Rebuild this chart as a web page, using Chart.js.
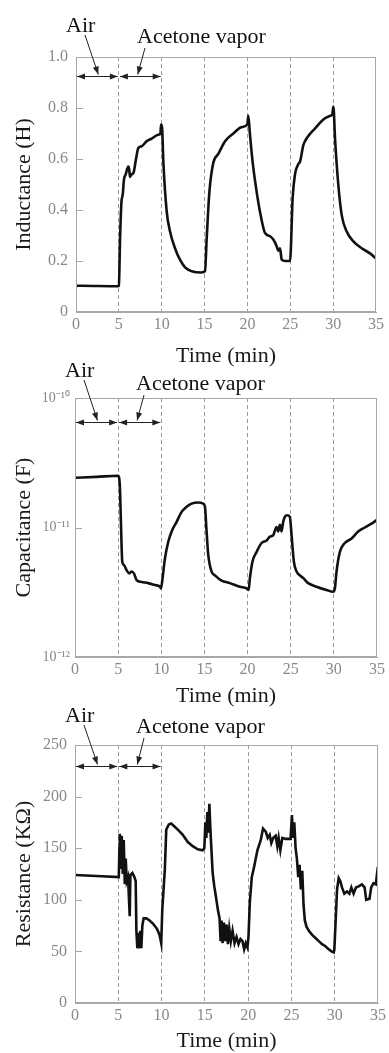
<!DOCTYPE html>
<html>
<head>
<meta charset="utf-8">
<script src="https://cdn.jsdelivr.net/npm/chart.js@4.4.1/dist/chart.umd.min.js"></script>
<style>
  body { margin: 0; background: #fff; width: 389px; height: 1053px; overflow: hidden; position: relative; }
  canvas { position: absolute; left: 0; }
</style>
</head>
<body>
<canvas id="inductance" width="389" height="372" style="top:0px"></canvas>
<canvas id="capacitance" width="389" height="380" style="top:340px"></canvas>
<canvas id="resistance" width="389" height="356" style="top:700px"></canvas>
<script>
// time axis (min) shared by the three panels
const timeTicks = [0, 5, 10, 15, 20, 25, 30, 35];
const exposureSpans = [[0, 5], [5, 10]];   // air, then acetone vapor

// inductance (H)
const indTime = [0, 2, 4.9, 5.0, 5.15, 5.3, 5.45, 5.6, 5.8, 6.1, 6.2, 6.3, 6.5, 6.7, 7.0, 7.27, 7.66, 8.25, 8.83, 9.6, 9.85, 9.92,
  10.05, 10.19, 10.58, 10.97, 11.55, 12.13, 12.72, 13.5, 14.66, 15.05, 15.25, 15.56, 16.02, 16.6, 17.39, 18.36, 19.33, 19.99,
  20.1, 20.3, 20.6, 21.08, 21.66, 22.05, 22.64, 23.02, 23.41, 23.6, 23.8, 24.0, 24.4, 24.97, 25.28, 25.55, 25.94, 26.14, 26.53,
  27.1, 27.9, 28.86, 29.72, 29.9, 30.03, 30.22, 30.6, 31.0, 31.58, 32.36, 33.33, 34.3, 35];
const indValue = [0.103, 0.102, 0.101, 0.103, 0.30, 0.43, 0.46, 0.52, 0.54, 0.57, 0.56, 0.53, 0.54, 0.545, 0.60, 0.643, 0.65, 0.67, 0.68, 0.695, 0.70, 0.735,
  0.72, 0.59, 0.395, 0.316, 0.25, 0.205, 0.175, 0.16, 0.155, 0.16, 0.29, 0.47, 0.585, 0.62, 0.67, 0.70, 0.725, 0.735,
  0.77, 0.695, 0.59, 0.47, 0.36, 0.31, 0.297, 0.284, 0.258, 0.24, 0.25, 0.205, 0.20, 0.20, 0.45, 0.54, 0.58, 0.59, 0.655,
  0.69, 0.72, 0.755, 0.77, 0.775, 0.806, 0.68, 0.50, 0.38, 0.316, 0.277, 0.25, 0.23, 0.21];
const indTicks = [0, 0.2, 0.4, 0.6, 0.8, 1.0];

// capacitance (F)
const capTime = [0, 2.5, 5.02, 5.21, 5.33, 5.48, 5.68, 5.98, 6.29, 6.56, 6.83, 7.14, 7.72, 8.49, 9.27, 9.85, 9.96,
  10.15, 10.42, 10.81, 11.2, 11.78, 12.36, 12.93, 13.51, 14.29, 14.86, 15.06, 15.25, 15.44, 15.83, 16.22, 16.99, 17.95, 19.11, 19.88,
  20.12, 20.27, 20.58, 21.04, 21.62, 22.2, 22.59, 22.97, 23.36, 23.55, 23.75, 23.94, 24.13, 24.32, 24.59, 24.9,
  25.1, 25.37, 25.68, 26.06, 26.45, 27.03, 27.99, 29.15, 29.92, 30.12, 30.31, 30.69, 31.27, 32.05, 32.82, 33.59, 34.36, 34.94];
const capValue = [2.42e-11, 2.46e-11, 2.51e-11, 2.0e-11, 1.05e-11, 5.43e-12, 5.13e-12, 4.68e-12, 4.42e-12, 4.57e-12, 4.42e-12, 3.93e-12, 3.80e-12, 3.72e-12, 3.59e-12, 3.49e-12, 3.39e-12,
  4.07e-12, 5.75e-12, 7.76e-12, 9.33e-12, 1.107e-11, 1.32e-11, 1.445e-11, 1.53e-11, 1.56e-11, 1.53e-11, 1.445e-11, 9.33e-12, 6.17e-12, 4.57e-12, 4.27e-12, 3.89e-12, 3.72e-12, 3.49e-12, 3.39e-12,
  3.29e-12, 4.07e-12, 5.5e-12, 6.46e-12, 7.59e-12, 7.94e-12, 8.51e-12, 8.71e-12, 1.01e-11, 9.33e-12, 1.05e-11, 9.33e-12, 1.107e-11, 1.21e-11, 1.245e-11, 1.21e-11,
  8.71e-12, 5.43e-12, 4.57e-12, 4.27e-12, 4.07e-12, 3.72e-12, 3.49e-12, 3.29e-12, 3.19e-12, 3.39e-12, 4.57e-12, 6.46e-12, 7.59e-12, 8.22e-12, 9.33e-12, 1.0e-11, 1.07e-11, 1.14e-11];
const capTicks = [1e-12, 1e-11, 1e-10];
const capTickLabels = ['10⁻¹²', '10⁻¹¹', '10⁻¹⁰'];

// resistance (kOhm)
const resTime = [0, 2.5, 5.06, 5.13, 5.17, 5.29, 5.4, 5.52, 5.63, 5.75, 5.86, 5.98, 6.13, 6.25, 6.32, 6.4, 6.63, 6.86, 7.01, 7.09, 7.2, 7.32, 7.43, 7.55, 7.66, 7.78, 7.93,
  8.24, 8.62, 9.0, 9.46, 9.77, 9.96, 10.08, 10.23, 10.38, 10.54, 10.84, 11.11, 11.49, 11.88, 12.45, 13.03, 13.6, 14.18, 14.75, 14.94,
  15.06, 15.17, 15.29, 15.4, 15.52, 15.63, 15.75, 15.9, 16.09, 16.28, 16.51, 16.7, 16.82, 16.93, 17.05, 17.2, 17.36, 17.51, 17.66, 17.82,
  18.0, 18.2, 18.43, 18.66, 18.89, 19.12, 19.35, 19.54, 19.73, 19.92, 20.04, 20.19, 20.42, 20.69, 21.07, 21.46, 21.72, 22.03, 22.26, 22.49,
  22.68, 22.91, 23.18, 23.37, 23.52, 23.72, 23.95, 24.33, 24.9, 25.06, 25.17, 25.33, 25.48, 25.63, 25.79, 25.94, 26.09, 26.25, 26.4, 26.55,
  26.74, 27.01, 27.39, 27.78, 28.16, 28.54, 28.93, 29.31, 29.62, 29.89, 29.96, 30.11, 30.27, 30.46, 30.65, 30.84, 31.11, 31.42, 31.69, 31.92,
  32.18, 32.45, 32.76, 33.14, 33.45, 33.64, 34.02, 34.21, 34.48, 34.75, 34.98];
const resValue = [124, 123, 122, 150, 164, 130, 162, 125, 158, 115, 140, 118, 122, 98, 84, 124, 126, 122, 118, 70, 53, 68, 53, 70, 53, 75, 82,
  82, 80, 77, 72, 66, 58, 90, 110, 130, 168, 173, 174, 171, 168, 163, 156, 152, 149, 148, 150,
  175, 160, 185, 165, 193, 170, 150, 126, 113, 103, 90, 82, 60, 80, 58, 78, 60, 76, 57, 72,
  60, 70, 58, 64, 57, 62, 60, 52, 58, 54, 64, 97, 122, 132, 148, 158, 169, 166, 160, 163,
  155, 160, 162, 152, 160, 148, 160, 159, 159, 182, 160, 175, 150, 140, 122, 134, 110, 128, 95, 80,
  74, 70, 66, 63, 60, 57, 55, 52, 50, 49, 52, 80, 110, 121, 118, 112, 106, 108, 106, 112,
  106, 112, 113, 115, 112, 100, 101, 112, 116, 115, 132];
const resTicks = [0, 50, 100, 150, 200, 250];

const serif = "'Liberation Serif', 'Times New Roman', serif";

function zip(xs, ys) {
  return xs.map((t, i) => ({ x: t, y: ys[i] }));
}

function head(ctx, x, y, ang) {
  ctx.beginPath();
  ctx.moveTo(x, y);
  ctx.lineTo(x - 8 * Math.cos(ang) + 3 * Math.sin(ang), y - 8 * Math.sin(ang) - 3 * Math.cos(ang));
  ctx.lineTo(x - 8 * Math.cos(ang) - 3 * Math.sin(ang), y - 8 * Math.sin(ang) + 3 * Math.cos(ang));
  ctx.closePath();
  ctx.fill();
}

function pointer(ctx, x0, y0, x1, y1) {
  ctx.beginPath();
  ctx.moveTo(x0, y0);
  ctx.lineTo(x1, y1);
  ctx.stroke();
  head(ctx, x1, y1, Math.atan2(y1 - y0, x1 - x0));
}

// box, inner y ticks and the air / acetone vapor markers
const notes = {
  id: 'notes',
  afterDraw(chart, args, o) {
    const { ctx, chartArea: a, scales: { x, y } } = chart;
    ctx.save();
    ctx.strokeStyle = '#a8a8a8';
    ctx.lineWidth = 1;
    ctx.strokeRect(a.left + 0.5, a.top + 0.5, a.right - a.left - 1, a.bottom - a.top - 1);
    y.ticks.forEach(t => {
      const py = Math.round(y.getPixelForValue(t.value)) + 0.5;
      if (py <= a.top + 2 || py >= a.bottom - 2) return;
      ctx.beginPath();
      ctx.moveTo(a.left, py);
      ctx.lineTo(a.left + 7, py);
      ctx.stroke();
    });

    const ay = Math.round(y.getPixelForValue(o.arrowY)) + 0.5;
    ctx.strokeStyle = '#222';
    ctx.fillStyle = '#222';
    exposureSpans.forEach(([t0, t1]) => {
      const x0 = x.getPixelForValue(t0) + 1, x1 = x.getPixelForValue(t1) - 1;
      ctx.beginPath();
      ctx.moveTo(x0, ay);
      ctx.lineTo(x1, ay);
      ctx.stroke();
      head(ctx, x0, ay, Math.PI);
      head(ctx, x1, ay, 0);
    });

    ctx.font = '22px ' + serif;
    ctx.fillStyle = '#111';
    ctx.textBaseline = 'alphabetic';
    ctx.fillText('Air', a.left - 10, a.top + o.airBase);
    ctx.fillText('Acetone vapor', a.left + 61, a.top + o.aceBase);

    ctx.fillStyle = '#222';
    pointer(ctx, a.left + 9, a.top + o.airBase + 3, x.getPixelForValue(2.6), ay - 2);
    pointer(ctx, a.left + 69, a.top + o.aceBase + 5, x.getPixelForValue(7.2), ay - 2);
    ctx.restore();
  }
};

function makePanel(id, p) {
  return new Chart(document.getElementById(id), {
    type: 'line',
    data: {
      datasets: [{
        data: p.data,
        borderColor: '#111',
        borderWidth: 2.6,
        pointRadius: 0,
        cubicInterpolationMode: p.smooth ? 'monotone' : 'default',
        tension: 0
      }]
    },
    options: {
      responsive: false,
      animation: false,
      layout: { padding: { top: p.plotTop, right: 389 - p.plotRight, left: 0, bottom: 0 } },
      plugins: {
        legend: { display: false },
        tooltip: { enabled: false },
        notes: p.notes
      },
      scales: {
        x: {
          type: 'linear',
          min: 0,
          max: 35,
          afterBuildTicks: s => { s.ticks = timeTicks.map(v => ({ value: v })); },
          afterFit: s => { s.height = p.canvasH - p.plotBottom; },
          ticks: { color: '#888', font: { family: serif, size: 16 }, padding: 3, maxRotation: 0 },
          grid: {
            drawTicks: false,
            color: c => (c.tick && (c.tick.value === 0 || c.tick.value === 35)) ? 'rgba(0,0,0,0)' : '#9a9a9a'
          },
          border: { color: '#a8a8a8', dash: [4, 3] },
          title: {
            display: true,
            text: 'Time (min)',
            color: '#1a1a1a',
            font: { family: serif, size: 22 },
            padding: { top: 0, bottom: p.titlePad }
          }
        },
        y: p.yScale
      }
    },
    plugins: [notes]
  });
}

function yTitle(text) {
  return { display: true, text: text, color: '#1a1a1a', font: { family: serif, size: 22 }, padding: { top: 11, bottom: 0 } };
}

makePanel('inductance', {
  data: zip(indTime, indValue), smooth: true,
  canvasH: 372, plotTop: 57, plotBottom: 312, plotRight: 376, titlePad: 3,
  notes: { arrowY: 0.925, airBase: -25, aceBase: -14 },
  yScale: {
    min: 0, max: 1,
    afterBuildTicks: s => { s.ticks = indTicks.map(v => ({ value: v })); },
    afterFit: s => { s.width = 76; },
    ticks: { color: '#888', font: { family: serif, size: 16 }, padding: 8, callback: v => v === 0 ? '0' : v.toFixed(1) },
    grid: { display: false, drawTicks: false },
    border: { color: '#a8a8a8' },
    title: yTitle('Inductance (H)')
  }
});

makePanel('capacitance', {
  data: zip(capTime, capValue), smooth: true,
  canvasH: 380, plotTop: 58, plotBottom: 317, plotRight: 377, titlePad: 11,
  notes: { arrowY: 6.5e-11, airBase: -21, aceBase: -8 },
  yScale: {
    type: 'logarithmic', min: 1e-12, max: 1e-10,
    afterBuildTicks: s => { s.ticks = capTicks.map(v => ({ value: v })); },
    afterFit: s => { s.width = 75; },
    ticks: { color: '#888', font: { family: serif, size: 14 }, padding: 5, callback: (v, i) => capTickLabels[i] },
    grid: { display: false, drawTicks: false },
    border: { color: '#a8a8a8' },
    title: yTitle('Capacitance (F)')
  }
});

makePanel('resistance', {
  data: zip(resTime, resValue), smooth: false,
  canvasH: 356, plotTop: 45, plotBottom: 303, plotRight: 379, titlePad: 2,
  notes: { arrowY: 230, airBase: -23, aceBase: -12 },
  yScale: {
    min: 0, max: 250,
    afterBuildTicks: s => { s.ticks = resTicks.map(v => ({ value: v })); },
    afterFit: s => { s.width = 75; },
    ticks: { color: '#888', font: { family: serif, size: 16 }, padding: 8 },
    grid: { display: false, drawTicks: false },
    border: { color: '#a8a8a8' },
    title: yTitle('Resistance (KΩ)')
  }
});
</script>
</body>
</html>
